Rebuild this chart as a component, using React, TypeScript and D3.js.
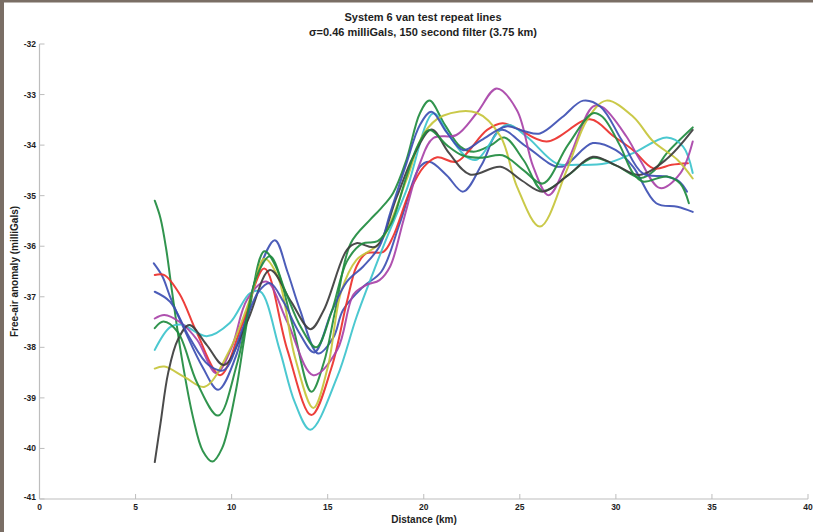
import React from "react";
import * as d3 from "d3";

// Each series: [distance km, free-air anomaly mGal]
const blue1: [number, number][] = [
  [5.95, -36.34], [6.4, -36.6], [6.8, -37.0], [7.6, -37.7], [8.5, -38.4], [9.3, -38.84], [10.2, -38.2],
  [11.3, -36.6], [12.25, -35.88], [12.9, -36.5], [13.56, -37.26], [14.5, -38.12], [15.3, -37.8],
  [15.8, -37.26], [16.85, -36.8], [17.8, -36.5], [18.75, -35.55], [19.8, -34.43], [20.3, -34.33],
  [21.2, -34.6], [22.05, -34.92], [23.0, -34.4], [24.0, -33.7], [25.35, -34.03], [27.1, -34.43],
  [28.8, -33.96], [30.0, -34.1], [30.9, -34.43], [32.1, -35.15], [33.2, -35.22], [34.0, -35.32],
];
const green1: [number, number][] = [
  [6.0, -35.1], [6.3, -35.45], [6.6, -36.07], [6.9, -36.9], [7.4, -38.2], [8.0, -39.4], [8.5, -40.05],
  [9.0, -40.26], [9.5, -40.0], [10.2, -38.9], [10.9, -37.3], [11.7, -36.1], [12.3, -36.4], [13.2, -37.6],
  [14.15, -38.88], [14.8, -38.3], [15.4, -37.26], [16.2, -35.94], [17.2, -35.48], [17.7, -35.28],
  [18.4, -34.95], [19.1, -34.29], [19.8, -33.37], [20.3, -33.12], [21.1, -33.6], [21.9, -34.03],
  [22.6, -34.13], [23.5, -34.0], [24.2, -33.85], [25.2, -34.3], [26.2, -34.9], [27.5, -34.6],
  [28.8, -34.25], [30.0, -34.4], [31.3, -34.65], [32.0, -34.5], [32.65, -34.16], [34.0, -33.65],
];
const red: [number, number][] = [
  [6.0, -36.57], [6.5, -36.57], [7.3, -36.95], [8.2, -37.72], [9.4, -38.55], [10.5, -37.6], [11.7, -36.44],
  [12.9, -38.05], [14.15, -39.34], [15.2, -38.4], [16.0, -37.1], [16.5, -36.4], [17.0, -36.14],
  [17.9, -36.11], [18.4, -35.81], [19.3, -34.89], [20.0, -34.43], [20.7, -34.24], [21.7, -34.33],
  [23.3, -33.7], [24.1, -33.57], [24.85, -33.67], [26.4, -33.93], [28.65, -33.49], [29.9, -33.83],
  [30.9, -34.1], [31.95, -34.46], [32.9, -34.39], [33.75, -34.36],
];
const cyan: [number, number][] = [
  [6.0, -38.05], [6.8, -37.6], [7.4, -37.55], [8.7, -37.78], [9.9, -37.52], [10.95, -36.93], [11.5, -36.9],
  [12.5, -38.05], [13.3, -39.1], [14.1, -39.63], [15.5, -38.58], [16.5, -37.4], [17.55, -36.34],
  [18.1, -35.81], [19.1, -34.89], [20.5, -33.37], [21.3, -33.8], [22.2, -34.23], [22.75, -34.29],
  [24.3, -33.6], [25.35, -33.83], [26.9, -34.36], [28.0, -34.39], [29.5, -34.36], [30.9, -34.16],
  [32.65, -33.85], [33.5, -34.03], [34.0, -34.55],
];
const magenta: [number, number][] = [
  [6.0, -37.43], [6.5, -37.36], [7.3, -37.5], [8.2, -37.85], [9.2, -38.51], [10.0, -38.0], [10.8, -37.06],
  [11.8, -36.7], [12.9, -37.5], [14.25, -38.55], [15.5, -38.05], [16.35, -36.95], [17.0, -36.77],
  [17.7, -36.67], [18.25, -36.4], [18.95, -35.48], [19.8, -34.36], [20.5, -33.86], [21.7, -33.8],
  [22.75, -33.37], [23.8, -32.88], [24.85, -33.31], [25.7, -34.43], [26.5, -34.99], [27.45, -34.36],
  [28.8, -33.24], [29.3, -33.25], [30.55, -33.83], [31.25, -34.29], [32.3, -34.85], [33.35, -34.56],
  [34.0, -33.93],
];
const yellow: [number, number][] = [
  [6.0, -38.42], [6.5, -38.38], [7.6, -38.6], [8.6, -38.78], [9.9, -38.05], [11.0, -37.0], [11.7, -36.25],
  [12.4, -36.6], [13.3, -38.2], [14.25, -39.2], [15.0, -38.4], [15.7, -36.9], [16.5, -36.27],
  [17.7, -35.94], [19.1, -34.69], [20.0, -33.77], [21.0, -33.42], [22.75, -33.36], [24.0, -33.83],
  [24.85, -34.82], [26.05, -35.61], [27.45, -34.49], [28.5, -33.5], [29.5, -33.12], [30.9, -33.44],
  [31.95, -33.93], [33.2, -34.29], [34.0, -34.66],
];
const black: [number, number][] = [
  [6.0, -40.27], [6.3, -39.5], [6.7, -38.5], [7.2, -37.85], [7.8, -37.56], [8.7, -37.95], [9.6, -38.35],
  [10.8, -37.5], [12.0, -36.47], [13.1, -37.1], [14.1, -37.64], [14.8, -37.26], [16.0, -36.07],
  [16.5, -35.94], [17.5, -36.01], [18.6, -35.02], [19.45, -34.23], [20.4, -33.69], [21.3, -34.15],
  [22.4, -34.58], [24.0, -34.43], [25.1, -34.7], [26.2, -34.92], [27.5, -34.6], [28.8, -34.23],
  [30.0, -34.4], [31.2, -34.59], [32.6, -34.29], [34.0, -33.7],
];
const blue2: [number, number][] = [
  [6.0, -36.9], [6.8, -37.1], [7.8, -37.8], [8.8, -38.35], [9.6, -38.45], [10.6, -37.6], [11.4, -36.9],
  [12.0, -36.73], [12.7, -37.1], [13.5, -37.7], [14.3, -38.1], [15.2, -37.3], [16.0, -36.7],
  [16.85, -36.4], [17.7, -36.0], [18.25, -35.35], [19.1, -34.36], [19.8, -33.6], [20.4, -33.34],
  [21.2, -33.75], [22.05, -34.1], [23.0, -33.9], [24.3, -33.63], [25.2, -33.72], [26.05, -33.77],
  [27.2, -33.45], [28.3, -33.12], [29.2, -33.24], [30.3, -33.9], [31.4, -34.56], [32.65, -34.62],
  [33.3, -34.72], [33.7, -34.92],
];
const green2: [number, number][] = [
  [6.0, -37.62], [6.45, -37.49], [7.2, -37.7], [8.2, -38.7], [9.3, -39.35], [10.3, -38.3], [11.3, -36.6],
  [12.0, -36.2], [12.8, -36.9], [13.6, -37.6], [14.4, -38.0], [15.2, -37.3], [16.0, -36.3],
  [16.8, -35.95], [17.6, -35.9], [18.3, -35.55], [19.1, -34.62], [19.7, -34.0], [20.3, -33.7],
  [21.2, -34.0], [22.0, -34.2], [23.0, -34.25], [24.1, -34.2], [25.2, -34.5], [26.2, -34.76],
  [27.5, -34.0], [28.8, -33.37], [29.3, -33.44], [30.2, -34.0], [30.9, -34.56], [31.4, -34.72],
  [32.65, -34.62], [33.35, -34.76], [33.8, -35.15],
];

const seriesList = [blue1, green1, red, cyan, magenta, yellow, black, blue2, green2];
const seriesColors = ["#3d4fb3", "#1f8b3f", "#ec2f2a", "#3cc3cc", "#a842a8", "#c6c43a", "#3c3c3c", "#3d4fb3", "#1f8b3f"];

const xTicks = [0, 5, 10, 15, 20, 25, 30, 35, 40];
const yTicks = [-41, -40, -39, -38, -37, -36, -35, -34, -33, -32];

const titleLine1 = "System 6 van test repeat lines";
const titleLine2 = "\u03c3=0.46 milliGals, 150 second filter (3.75 km)";
const xLabel = "Distance (km)";
const yLabel = "Free-air anomaly (milliGals)";

const W = 813;
const H = 532;
const FONT = "'Liberation Sans', Arial, Helvetica, sans-serif";

export default function App() {
  const x = d3.scaleLinear().domain([0, 40]).range([39.5, 808]);
  const y = d3.scaleLinear().domain([-41, -32]).range([499, 44]);
  const line = d3
    .line<[number, number]>()
    .x((d) => x(d[0]))
    .y((d) => y(d[1]))
    .curve(d3.curveCatmullRom.alpha(0.5));
  const axisColor = "#bdbdbd";
  const textColor = "#1e1e1e";

  return (
    <svg width={W} height={H} style={{ position: "absolute", left: 0, top: 0, background: "#fff" }}>
      <rect x={0} y={0} width={W} height={H} fill="#ffffff" />
      <rect x={0} y={0} width={W} height={2.5} fill="#7a6e65" />
      <rect x={0} y={0} width={4} height={H} fill="#7a6e65" />

      {/* axes */}
      <line x1={x(0)} x2={x(0)} y1={y(-32)} y2={y(-41)} stroke={axisColor} strokeWidth={1.2} />
      <line x1={x(0)} x2={x(40)} y1={y(-41)} y2={y(-41)} stroke={axisColor} strokeWidth={1.2} />
      {yTicks.map((t) => (
        <g key={"y" + t}>
          <line x1={x(0)} x2={x(0) + 5} y1={y(t)} y2={y(t)} stroke={axisColor} strokeWidth={1} />
          <text
            x={x(0) - 3.5}
            y={y(t) + (t === -41 ? -1.5 : 0)}
            dy="0.35em"
            textAnchor="end"
            fontFamily={FONT}
            fontWeight="bold"
            fontSize={8.5}
            fill={textColor}
          >
            {t}
          </text>
        </g>
      ))}
      {xTicks.map((t) => (
        <g key={"x" + t}>
          <line x1={x(t)} x2={x(t)} y1={y(-41)} y2={y(-41) - 5} stroke={axisColor} strokeWidth={1} />
          <text
            x={x(t)}
            y={510}
            textAnchor="middle"
            fontFamily={FONT}
            fontWeight="bold"
            fontSize={8.5}
            fill={textColor}
          >
            {t}
          </text>
        </g>
      ))}

      {/* series */}
      {seriesList.map((s, i) => (
        <path
          key={i}
          d={line(s) || ""}
          fill="none"
          stroke={seriesColors[i]}
          strokeWidth={2}
          strokeLinejoin="round"
          strokeLinecap="round"
          opacity={0.92}
        />
      ))}

      {/* titles */}
      <text x={423} y={21} textAnchor="middle" fontFamily={FONT} fontWeight="bold" fontSize={11} fill={textColor}>
        {titleLine1}
      </text>
      <text x={423} y={36} textAnchor="middle" fontFamily={FONT} fontWeight="bold" fontSize={11} fill={textColor}>
        {titleLine2}
      </text>
      <text x={424} y={523} textAnchor="middle" fontFamily={FONT} fontWeight="bold" fontSize={10} fill={textColor}>
        {xLabel}
      </text>
      <text
        transform={`translate(18,${(y(-32) + y(-41)) / 2}) rotate(-90)`}
        textAnchor="middle"
        fontFamily={FONT}
        fontWeight="bold"
        fontSize={10}
        fill={textColor}
      >
        {yLabel}
      </text>
    </svg>
  );
}
